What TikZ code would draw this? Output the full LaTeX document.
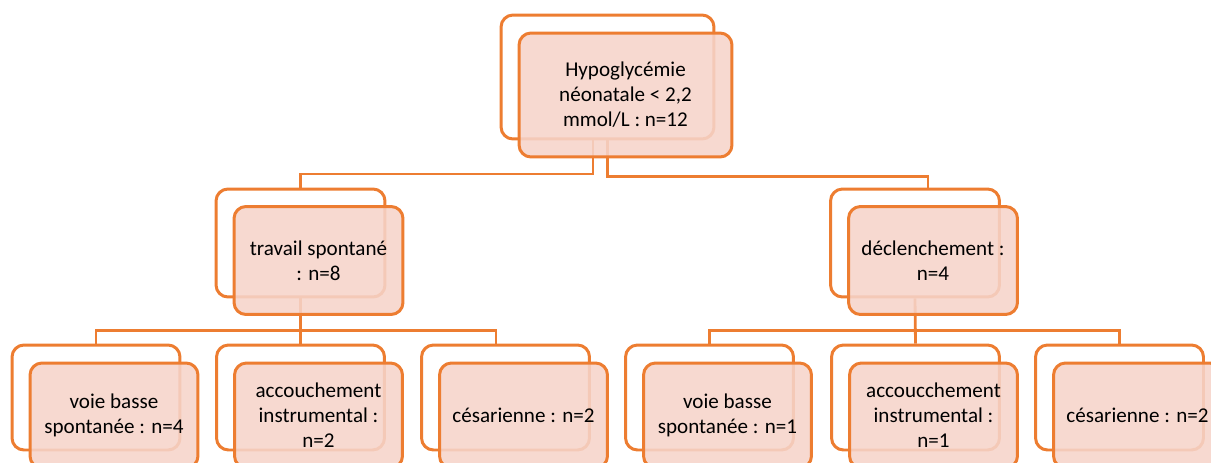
\documentclass[tikz,border=0pt]{standalone}
\usepackage{fontspec}
\setmainfont{Carlito}
\usepackage{tikz}
\usetikzlibrary{positioning}
\definecolor{boxline}{RGB}{237,125,49}
\definecolor{boxfill}{RGB}{246,212,202}

\begin{document}
\begin{tikzpicture}[x=0.02cm,y=-0.02cm,
    back node/.style={rectangle,rounded corners=0.24cm,draw=boxline,line width=1.7pt,fill=white,inner sep=0pt},
    main node/.style={rectangle,rounded corners=0.24cm,draw=boxline,line width=1.7pt,fill=boxfill,fill opacity=0.88,text opacity=1,align=center,inner sep=0pt,font=\fontsize{12}{14.2}\selectfont},
    top/.style={minimum width=4.26cm,minimum height=2.48cm},
    mid/.style={minimum width=3.38cm,minimum height=2.16cm},
    low/.style={minimum width=3.36cm,minimum height=2.1cm},
    link/.style={draw=boxline,line width=1.6pt}]

    \useasboundingbox (0,0) rectangle (1211,463);
    \clip (0,0) rectangle (1211,463);

    % back boxes
    \node[back node,top] (Hb) at (607.5,77) {};
    \node[back node,mid] (Tb) at (300.5,243) {};
    \node[back node,mid] (Db) at (915,243) {};
    \node[back node,low] (L1b) at (96,397.5) {};
    \node[back node,low] (L2b) at (300.5,397.5) {};
    \node[back node,low] (L3b) at (505.5,397.5) {};
    \node[back node,low] (R1b) at (709.5,397.5) {};
    \node[back node,low] (R2b) at (915.5,397.5) {};
    \node[back node,low] (R3b) at (1119.5,397.5) {};

    % connectors
    \draw[link] ([xshift=-0.29cm]Hb.south) -- ++(0,33.5) -| (Tb.north);
    \draw[link] (Hb.south) -- ++(0,36) -| ([xshift=0.26cm]Db.north);
    \draw[link] (Tb.south) -- (L2b.north);
    \draw[link] (L1b.north) |- ([yshift=-0.64cm]Tb.south) -| ([xshift=-0.19cm]L3b.north);
    \draw[link] (Db.south) -- (R2b.north);
    \draw[link] (R1b.north) |- ([yshift=-0.64cm]Db.south) -| (R3b.north);

    % front boxes
    \node[main node,top] (H) at ([shift={(18,18)}]Hb) {Hypoglycémie\\néonatale < 2,2\\mmol/L : n=12};
    \node[main node,mid] (T) at ([shift={(18,17.5)}]Tb) {travail spontané\\: n=8};
    \node[main node,mid] (D) at ([shift={(18,17.5)}]Db) {déclenchement :\\n=4};
    \node[main node,low] (L1) at ([shift={(18,18)}]L1b) {voie basse\\spontanée : n=4};
    \node[main node,low] (L2) at ([shift={(18,18)}]L2b) {accouchement\\instrumental :\\n=2};
    \node[main node,low] (L3) at ([shift={(18,18)}]L3b) {césarienne : n=2};
    \node[main node,low] (R1) at ([shift={(18,18)}]R1b) {voie basse\\spontanée : n=1};
    \node[main node,low] (R2) at ([shift={(18,18)}]R2b) {accoucchement\\instrumental :\\n=1};
    \node[main node,low] (R3) at ([shift={(18,18)}]R3b) {césarienne : n=2};
\end{tikzpicture}
\end{document}
